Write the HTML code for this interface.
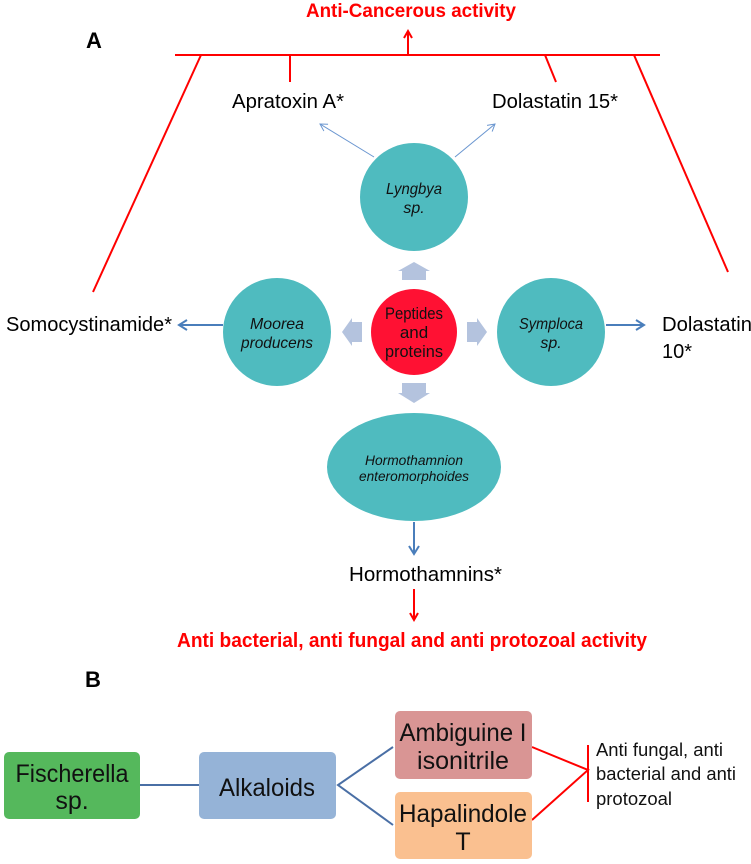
<!DOCTYPE html>
<html><head><meta charset="utf-8"><style>html,body{margin:0;padding:0;background:#fff}svg{display:block}</style></head><body>
<svg width="751" height="864" viewBox="0 0 751 864" xmlns="http://www.w3.org/2000/svg" font-family="Liberation Sans, sans-serif">
<defs>
<marker id="rA" markerWidth="10" markerHeight="10" refX="8" refY="5" orient="auto" markerUnits="userSpaceOnUse"><path d="M1,1 L8,5 L1,9" fill="none" stroke="#f00" stroke-width="2"/></marker>
<marker id="bA" markerWidth="12" markerHeight="12" refX="9" refY="6" orient="auto" markerUnits="userSpaceOnUse"><path d="M1,1 L9,6 L1,11" fill="none" stroke="#4a7ebb" stroke-width="2"/></marker>
<marker id="tA" markerWidth="10" markerHeight="10" refX="8" refY="5" orient="auto" markerUnits="userSpaceOnUse"><path d="M1,1 L8,5 L1,9" fill="none" stroke="#6a96d0" stroke-width="1"/></marker>
</defs>
<text x="411" y="17" font-size="19" font-weight="bold" fill="#f00" text-anchor="middle" textLength="210" lengthAdjust="spacingAndGlyphs">Anti-Cancerous activity</text>
<text x="86" y="48" font-size="22" font-weight="bold" fill="#000">A</text>
<g stroke="#f00" stroke-width="2" fill="none">
<line x1="175" y1="55" x2="660" y2="55"/>
<line x1="408" y1="55" x2="408" y2="31" marker-end="url(#rA)"/>
<line x1="201" y1="55" x2="93" y2="292"/>
<line x1="290" y1="55" x2="290" y2="82"/>
<line x1="545" y1="55" x2="556" y2="82"/>
<line x1="634" y1="55" x2="728" y2="272"/>
<line x1="414" y1="589" x2="414" y2="620" marker-end="url(#rA)"/>
</g>
<text x="232" y="108" font-size="20" fill="#000" textLength="112" lengthAdjust="spacingAndGlyphs">Apratoxin A*</text>
<text x="492" y="108" font-size="20" fill="#000" textLength="126" lengthAdjust="spacingAndGlyphs">Dolastatin 15*</text>
<g stroke="#6a96d0" stroke-width="1" fill="none">
<line x1="374" y1="157" x2="320" y2="124" marker-end="url(#tA)"/>
<line x1="455" y1="157" x2="495" y2="124" marker-end="url(#tA)"/>
</g>
<g fill="#4fbbbf">
<circle cx="414" cy="197" r="54"/>
<circle cx="277" cy="332" r="54"/>
<circle cx="551" cy="332" r="54"/>
<ellipse cx="414" cy="467" rx="87" ry="54"/>
</g>
<circle cx="414" cy="332" r="43" fill="#ff1133"/>
<g fill="#b4c3de">
<path d="M402,280 L402,271 L398,271 L414,262 L430,271 L426,271 L426,280 Z"/>
<path d="M402,383 L402,393 L398,393 L414,403 L430,393 L426,393 L426,383 Z"/>
<path d="M362,322 L352,322 L352,318 L342,332 L352,346 L352,342 L362,342 Z"/>
<path d="M467,322 L477,322 L477,318 L487,332 L477,346 L477,342 L467,342 Z"/>
</g>
<g font-size="16" font-style="italic" fill="#111" text-anchor="middle">
<text x="414" y="194" textLength="56" lengthAdjust="spacingAndGlyphs">Lyngbya</text>
<text x="414" y="213">sp.</text>
<text x="277" y="329" textLength="54" lengthAdjust="spacingAndGlyphs">Moorea</text>
<text x="277" y="348" textLength="72" lengthAdjust="spacingAndGlyphs">producens</text>
<text x="551" y="329" textLength="64" lengthAdjust="spacingAndGlyphs">Symploca</text>
<text x="551" y="348">sp.</text>
<text x="414" y="465" font-size="14" textLength="98" lengthAdjust="spacingAndGlyphs">Hormothamnion</text>
<text x="414" y="481" font-size="14" textLength="110" lengthAdjust="spacingAndGlyphs">enteromorphoides</text>
</g>
<g font-size="17" fill="#111" text-anchor="middle">
<text x="414" y="319" textLength="58" lengthAdjust="spacingAndGlyphs">Peptides</text>
<text x="414" y="338">and</text>
<text x="414" y="357" textLength="58" lengthAdjust="spacingAndGlyphs">proteins</text>
</g>
<g stroke="#4a7ebb" stroke-width="2" fill="none">
<line x1="223" y1="325" x2="179" y2="325" marker-end="url(#bA)"/>
<line x1="606" y1="325" x2="644" y2="325" marker-end="url(#bA)"/>
<line x1="414" y1="522" x2="414" y2="554" marker-end="url(#bA)"/>
</g>
<text x="6" y="331" font-size="20" fill="#000" textLength="166" lengthAdjust="spacingAndGlyphs">Somocystinamide*</text>
<text x="662" y="331" font-size="20" fill="#000" textLength="90" lengthAdjust="spacingAndGlyphs">Dolastatin</text>
<text x="662" y="358" font-size="20" fill="#000">10*</text>
<text x="349" y="581" font-size="20" fill="#000" textLength="153" lengthAdjust="spacingAndGlyphs">Hormothamnins*</text>
<text x="177" y="647" font-size="20" font-weight="bold" fill="#f00" textLength="470" lengthAdjust="spacingAndGlyphs">Anti bacterial, anti fungal and anti protozoal activity</text>
<text x="85" y="687" font-size="22" font-weight="bold" fill="#000">B</text>
<g stroke="#4a6fa5" stroke-width="2" fill="none">
<line x1="140" y1="785" x2="199" y2="785"/>
<polyline points="393,747 338,785 393,825"/>
</g>
<g stroke="#f00" stroke-width="2" fill="none">
<polyline points="532,747 588,770 532,820"/>
<line x1="588" y1="745" x2="588" y2="802"/>
</g>
<rect x="4" y="752" width="136" height="67" rx="5" fill="#55b85c"/>
<rect x="199" y="752" width="137" height="67" rx="5" fill="#95b3d7"/>
<rect x="395" y="711" width="137" height="68" rx="5" fill="#d99594"/>
<rect x="395" y="792" width="137" height="67" rx="5" fill="#fac090"/>
<g font-size="25" fill="#111" text-anchor="middle">
<text x="72" y="782" textLength="113" lengthAdjust="spacingAndGlyphs">Fischerella</text>
<text x="72" y="809">sp.</text>
<text x="267" y="796" textLength="96" lengthAdjust="spacingAndGlyphs">Alkaloids</text>
<text x="463" y="741" textLength="127" lengthAdjust="spacingAndGlyphs">Ambiguine I</text>
<text x="463" y="769" textLength="92" lengthAdjust="spacingAndGlyphs">isonitrile</text>
<text x="463" y="822" textLength="128" lengthAdjust="spacingAndGlyphs">Hapalindole</text>
<text x="463" y="850">T</text>
</g>
<g font-size="18" fill="#111">
<text x="596" y="756" textLength="127" lengthAdjust="spacingAndGlyphs">Anti fungal, anti</text>
<text x="596" y="780" textLength="140" lengthAdjust="spacingAndGlyphs">bacterial and anti</text>
<text x="596" y="805" textLength="76" lengthAdjust="spacingAndGlyphs">protozoal</text>
</g>
</svg>
</body></html>
